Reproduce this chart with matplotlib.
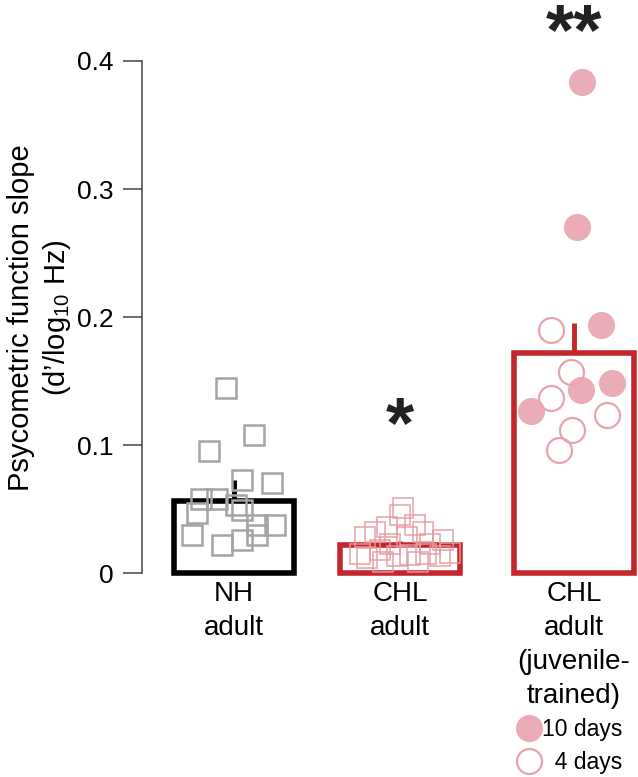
import matplotlib
matplotlib.use("Agg")
import matplotlib.pyplot as plt
from matplotlib.lines import Line2D

plt.rcParams['font.family'] = ['Liberation Sans', 'DejaVu Sans']
plt.rcParams['mathtext.fontset'] = 'custom'
plt.rcParams['mathtext.rm'] = 'Liberation Sans'

# --- data ---
groups = ['NH\nadult', 'CHL\nadult', 'CHL\nadult\n(juvenile-\ntrained)']
bar_mean = [0.0565, 0.022, 0.172]
bar_sem = [0.0165, 0.003, 0.023]

nh_slope = [0.1445, 0.108, 0.095, 0.0727, 0.070, 0.058, 0.058, 0.053,
            0.049, 0.047, 0.0375, 0.0375, 0.030, 0.022, 0.026, 0.030]
nh_jitter = [-0.05, 0.12, -0.15, 0.05, 0.23, -0.20, -0.10, 0.01,
             0.05, -0.22, 0.25, 0.14, -0.25, -0.07, 0.05, 0.14]

chl_slope = [0.051, 0.045, 0.036, 0.0375, 0.032, 0.028, 0.032, 0.026,
             0.015, 0.018, 0.013, 0.014, 0.015, 0.013, 0.016, 0.023,
             0.028, 0.023, 0.012, 0.009, 0.009]
chl_jitter = [0.02, 0.0, -0.08, 0.09, 0.14, -0.21, -0.15, 0.26,
              -0.24, -0.12, -0.02, 0.06, 0.16, 0.24, 0.30, -0.06,
              0.04, 0.18, -0.20, 0.11, -0.10]

juv10_slope = [0.3836, 0.2706, 0.1937, 0.1487, 0.143, 0.1266]
juv10_jitter = [0.05, 0.02, 0.16, 0.23, 0.04, -0.26]
juv4_slope = [0.190, 0.157, 0.1365, 0.1234, 0.112, 0.096]
juv4_jitter = [-0.14, -0.02, -0.14, 0.20, -0.01, -0.09]

stars = ['', '*', '**']

# --- layout / style ---
xpos = [0, 1, 2.05]
edge_cols = ['black', '#c1272d', '#c1272d']
pink = '#e8a3ae'

fig = plt.figure(figsize=(6.38, 7.77), dpi=100)
ax = fig.add_axes([0.2226, 0.2625, 0.774, 0.659])

ax.bar(xpos, bar_mean, width=0.72, color='white', edgecolor=edge_cols,
       linewidth=4, zorder=2, clip_on=False)
for x, m, s, c in zip(xpos, bar_mean, bar_sem, edge_cols):
    ax.plot([x, x], [m, m + s], color=c, lw=3.5, zorder=1.5,
            solid_capstyle='butt')

ax.plot([xpos[0] + j for j in nh_jitter], nh_slope, 's', ms=14.5,
        mfc='none', mec='#a4a4a4', mew=1.8, zorder=3)
ax.plot([xpos[1] + j for j in chl_jitter], chl_slope, 's', ms=14,
        mfc='none', mec='#e59aa0', mew=1.2, alpha=0.85, zorder=3)
ax.plot([xpos[2] + j for j in juv10_jitter], juv10_slope, 'o', ms=19.5,
        mfc=pink, mec='none', alpha=0.9, zorder=3)
ax.plot([xpos[2] + j for j in juv4_jitter], juv4_slope, 'o', ms=18,
        mfc='none', mec=pink, mew=1.6, zorder=3)

star_y = [0, 0.113, 0.42]
for x, s, y in zip(xpos, stars, star_y):
    if s:
        ax.text(x, y, s, ha='center', va='center', fontsize=52,
                fontweight='bold', color='#222222', clip_on=False)

ax.set_xlim(-0.554, 2.422)
ax.set_ylim(0, 0.4)
ax.set_yticks([0, 0.1, 0.2, 0.3, 0.4])
ax.set_yticklabels(['0', '0.1', '0.2', '0.3', '0.4'])
ax.set_xticks(xpos)
ax.set_xticklabels(groups, fontsize=20, linespacing=1.4)
ax.tick_params(axis='x', length=0, pad=6)
ax.tick_params(axis='y', labelsize=19, length=13.5, width=1.1,
               color='#444444', pad=7)
for side in ['top', 'right', 'bottom']:
    ax.spines[side].set_visible(False)
ax.spines['left'].set_color('#444444')
ax.spines['left'].set_linewidth(1.1)

fig.text(40 / 638, 1 - 318 / 777,
         'Psycometric function slope\n(d\u2019/log$_{10}$ Hz)',
         rotation=90, ha='center', va='center', fontsize=21,
         multialignment='center', linespacing=1.25)

handles = [Line2D([], [], ls='none', marker='o', ms=19.5, mfc=pink,
                  mec='none', alpha=0.9),
           Line2D([], [], ls='none', marker='o', ms=18, mfc='none',
                  mec=pink, mew=1.6)]
fig.legend(handles, ['10 days', '  4 days'], loc='upper right',
           bbox_to_anchor=(636 / 638, 1 - 704 / 777), frameon=False,
           fontsize=16.5, handlelength=0.9, handletextpad=0.1,
           labelspacing=0.45, borderpad=0.1)

fig.savefig('out.png', dpi=100)
